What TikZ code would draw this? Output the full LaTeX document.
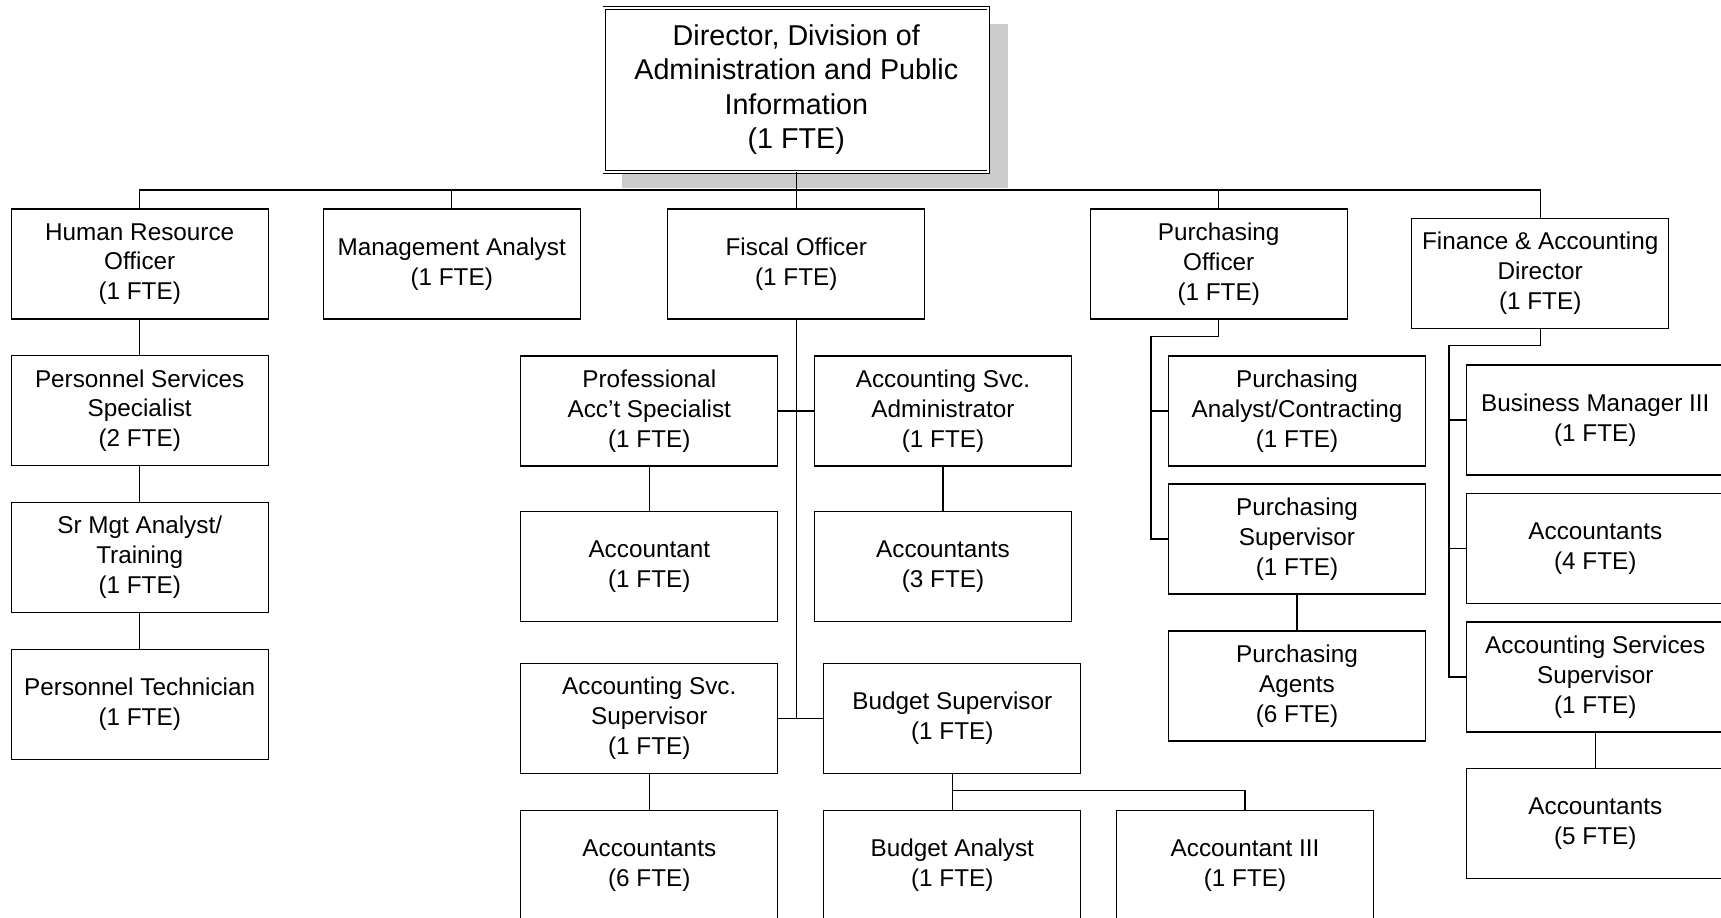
\documentclass[tikz,border=0pt]{standalone}
\usepackage{fontspec}
\setmainfont{Liberation Sans}
\begin{document}
\begin{tikzpicture}[x=1pt,y=-1pt,
  unit/.style={draw=black, line width=1.1pt, fill=white, align=center, inner sep=0pt,
    minimum width=257pt, minimum height=110pt,
    font=\fontsize{24.3}{29.8}\selectfont},
  headbox/.style={draw=black, double, double distance=1.8pt, line width=0.9pt, fill=white,
    align=center, inner sep=0pt, minimum width=384pt, minimum height=164pt,
    font=\fontsize{28.7}{34.5}\selectfont},
  link/.style={draw=black, line width=1.1pt}]
\useasboundingbox (0,0) rectangle (1721,918);

% drop shadow behind the director's box
\fill[black!20] (621.7,24) rectangle (1008.3,188.3);

% director
\node[headbox] (dir) at (796.3,89.7) {Director, Division of\\Administration and Public\\Information\\(1 FTE)};

% first level
\node[unit] (hr) at (139.7,264) {Human Resource\\Officer\\(1 FTE)};
\node[unit] (ma) at (451.7,264) {Management Analyst\\(1 FTE)};
\node[unit] (fo) at (796.3,264) {Fiscal Officer\\(1 FTE)};
\node[unit] (po) at (1218.7,264) {Purchasing\\Officer\\(1 FTE)};
\node[unit] (fa) at (1540.2,273.3) {Finance \& Accounting\\Director\\(1 FTE)};

% human resources chain
\node[unit] (pss) at (139.7,410.7) {Personnel Services\\Specialist\\(2 FTE)};
\node[unit] (sma) at (139.7,557.5) {Sr Mgt Analyst/\\Training\\(1 FTE)};
\node[unit] (pt) at (139.7,704.3) {Personnel Technician\\(1 FTE)};

% fiscal branch
\node[unit] (pas) at (649.3,411) {Professional\\Acc’t Specialist\\(1 FTE)};
\node[unit] (asa) at (943,411) {Accounting Svc.\\Administrator\\(1 FTE)};
\node[unit] (acc1) at (649.3,566.7) {Accountant\\(1 FTE)};
\node[unit] (acc3) at (943,566.7) {Accountants\\(3 FTE)};
\node[unit] (ass) at (649.3,718.3) {Accounting Svc.\\Supervisor\\(1 FTE)};
\node[unit] (bs) at (952.3,718.3) {Budget Supervisor\\(1 FTE)};
\node[unit] (acc6) at (649.3,865.3) {Accountants\\(6 FTE)};
\node[unit] (ba) at (952.3,865.3) {Budget Analyst\\(1 FTE)};
\node[unit] (a3) at (1245,865.3) {Accountant III\\(1 FTE)};

% purchasing branch
\node[unit] (pac) at (1297,411) {Purchasing\\Analyst/Contracting\\(1 FTE)};
\node[unit] (psup) at (1297,539) {Purchasing\\Supervisor\\(1 FTE)};
\node[unit] (pag) at (1297,686) {Purchasing\\Agents\\(6 FTE)};

% finance branch
\node[unit] (bm3) at (1595.3,420) {Business Manager III\\(1 FTE)};
\node[unit] (acc4) at (1595.3,548.3) {Accountants\\(4 FTE)};
\node[unit] (asup) at (1595.3,677) {Accounting Services\\Supervisor\\(1 FTE)};
\node[unit] (acc5) at (1595.3,823.7) {Accountants\\(5 FTE)};

% junction points
\coordinate (bus) at (0,190);
\coordinate (pj) at (1151,336.7);
\coordinate (fj) at (1449,345.5);
\coordinate (bj) at (0,790.7);

% top bus
\draw[link] (hr.north) -- (hr.north |- bus) -- (fa.north |- bus) -- (fa.north);
\draw[link] (ma.north) -- (ma.north |- bus);
\draw[link] (po.north) -- (po.north |- bus);
\draw[link] (dir.south) -- (fo.north);

% human resources
\draw[link] (hr.south) -- (pss.north);
\draw[link] (pss.south) -- (sma.north);
\draw[link] (sma.south) -- (pt.north);

% fiscal
\draw[link] (fo.south) -- (fo.south |- ass.east);
\draw[link] (pas.east) -- (asa.west);
\draw[link] (ass.east) -- (bs.west);
\draw[link] (pas.south) -- (acc1.north);
\draw[link] (asa.south) -- (acc3.north);
\draw[link] (ass.south) -- (acc6.north);
\draw[link] (bs.south) -- (ba.north);
\draw[link] (bs.south |- bj) -| (a3.north);

% purchasing
\draw[link] (po.south) |- (pj) -- (pj |- psup.west) -- (psup.west);
\draw[link] (pj |- pac.west) -- (pac.west);
\draw[link] (psup.south) -- (pag.north);

% finance
\draw[link] (fa.south) |- (fj) -- (fj |- asup.west) -- (asup.west);
\draw[link] (fj |- bm3.west) -- (bm3.west);
\draw[link] (fj |- acc4.west) -- (acc4.west);
\draw[link] (asup.south) -- (acc5.north);
\end{tikzpicture}
\end{document}
